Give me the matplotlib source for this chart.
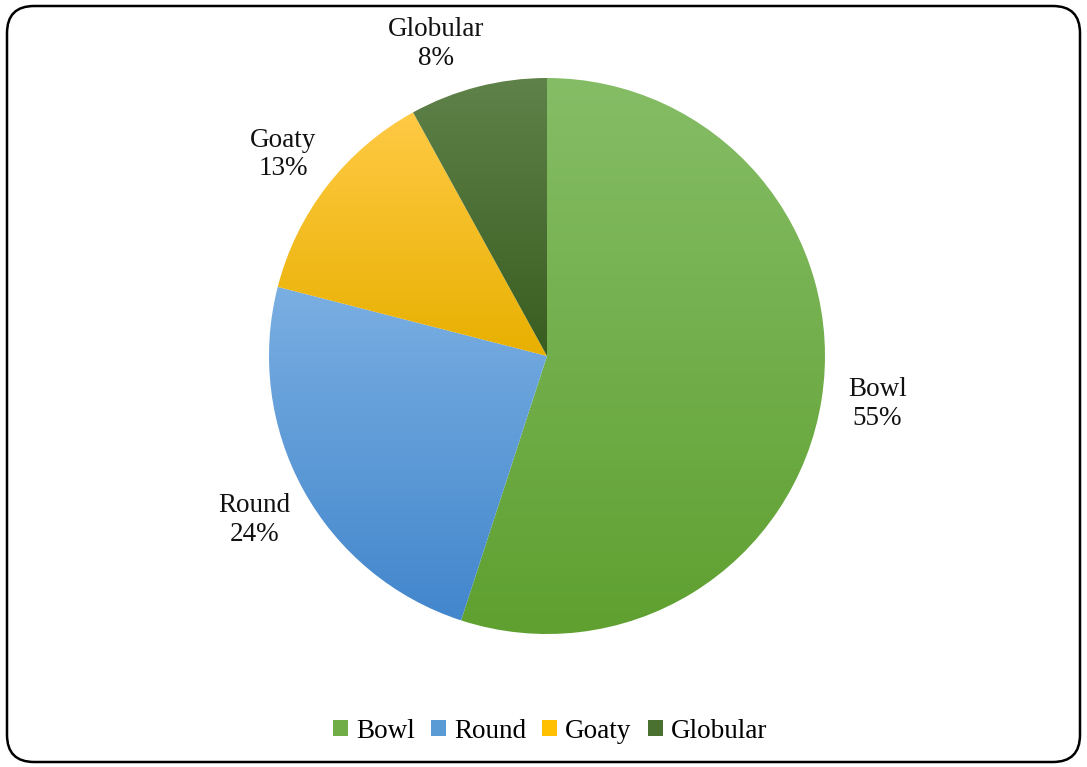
import numpy as np
import matplotlib
matplotlib.use("Agg")
import matplotlib.pyplot as plt
from matplotlib.colors import LinearSegmentedColormap
from matplotlib.patches import FancyBboxPatch, Patch

# data
labels = ["Bowl", "Round", "Goaty", "Globular"]
values = [55, 24, 13, 8]
top_colors = ["#85BD66", "#7AAFE2", "#FFCA45", "#5E8249"]
bottom_colors = ["#5FA030", "#4286CC", "#E8B000", "#395C20"]
mid_colors = ["#70AD47", "#5B9BD5", "#FFC000", "#4A7130"]

plt.rcParams["font.family"] = ["Liberation Serif", "DejaVu Serif"]

W, H = 1087, 767
fig = plt.figure(figsize=(W / 100, H / 100), dpi=100)
ax = fig.add_axes([0, 0, 1, 1])
ax.set_xlim(0, W)
ax.set_ylim(0, H)
ax.axis("off")

cx, cy, r = 547, H - 356, 278
wedges, _ = ax.pie(values, startangle=90, counterclock=False,
                   center=(cx, cy), radius=r, frame=True,
                   wedgeprops=dict(linewidth=0))

grad = np.linspace(0, 1, 256).reshape(-1, 1)
for w, c0, c1 in zip(wedges, top_colors, bottom_colors):
    ext = w.get_path().get_extents()
    cmap = LinearSegmentedColormap.from_list("g", [c0, c1])
    im = ax.imshow(grad, cmap=cmap, origin="upper", aspect="auto",
                   extent=[ext.x0, ext.x1, ext.y0, ext.y1],
                   interpolation="bilinear", zorder=2)
    im.set_clip_path(w)
    w.set_facecolor("none")

# label offsets in degrees (the small label gets nudged away from the top)
nudge = [1.2, 0, 0, 5]
for w, lab, v, n in zip(wedges, labels, values, nudge):
    ang = np.deg2rad((w.theta1 + w.theta2) / 2 + n)
    d = 1.2 * r
    ax.text(cx + d * np.cos(ang), cy + d * np.sin(ang) - 3, f"{lab}\n{v}%",
            ha="center", va="center", fontsize=19.5, linespacing=1.2,
            color="#111111", zorder=3)

ax.set_xlim(0, W)
ax.set_ylim(0, H)
ax.set_aspect("auto")

handles = [Patch(facecolor=c, edgecolor="none") for c in mid_colors]
fig.legend(handles, labels, loc="center", bbox_to_anchor=(0.506, 1 - 731 / H),
           ncol=4, frameon=False, fontsize=19.5, handlelength=0.55,
           handleheight=0.55, handletextpad=0.3, columnspacing=0.6)

border = FancyBboxPatch((7 / W, 5 / H), 1 - 14 / W, 1 - 11 / H,
                        boxstyle="round,pad=0,rounding_size=0.025",
                        transform=fig.transFigure, fill=False,
                        edgecolor="black", linewidth=1.8,
                        mutation_aspect=W / H)
fig.patches.append(border)

fig.savefig("out.png", dpi=100)
